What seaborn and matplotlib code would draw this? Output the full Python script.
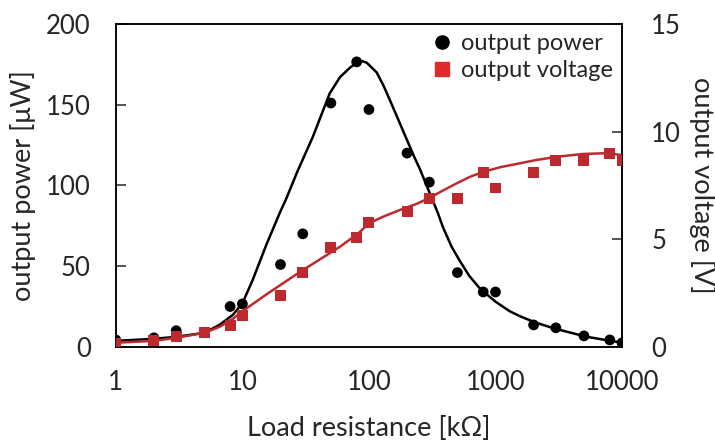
import matplotlib
matplotlib.use("Agg")
import matplotlib.pyplot as plt
import pandas as pd
import seaborn as sns
from matplotlib.lines import Line2D

# measured points
resistance = [1, 2, 3, 5, 8, 10, 20, 30, 50, 80, 100, 200, 300, 500, 800, 1000,
              2000, 3000, 5000, 8000, 10000]
power = [4.3, 5.6, 10, None, 25, 26.6, 51, 70, 151, 176.5, 147, 120, 102, 46, 34, 34,
         13.6, 11.8, 6.8, 4.3, 2.5]
voltage = [0.14, 0.28, 0.46, 0.65, 0.98, 1.44, 2.37, 3.44, 4.6, 5.1, 5.76, 6.3, 6.9, 6.87,
           8.08, 7.38, 8.08, 8.64, 8.64, 9.0, 8.64]

# fitted curves
fit_p_x = [1, 2, 3, 5, 6.6, 8.4, 10, 12, 15.6, 20, 22, 27, 36, 49, 59, 71, 80, 88, 96,
           115, 130, 146, 170, 200, 230, 253, 303, 350, 385, 450, 525, 620, 756, 1000,
           1300, 1560, 2000, 2850, 4000, 5300, 7500, 10000]
fit_p_y = [3.7, 5, 6.2, 8.7, 13.6, 19.8, 27, 41, 64, 84, 91, 108, 130, 157, 167, 173,
           176, 177, 176, 170, 162, 153, 141, 128, 117, 110, 95, 83, 74, 62, 53, 44, 36,
           28, 22, 19, 15.5, 11.6, 8.6, 6.2, 4.2, 2.6]
fit_v_x = [1, 2, 3, 5, 6.6, 8.4, 10, 15.6, 28.5, 59, 70, 80, 100, 130, 176, 240, 300,
           390, 495, 630, 800, 1100, 1480, 2100, 3070, 4900, 7900, 10000]
fit_v_y = [0.19, 0.28, 0.42, 0.65, 0.93, 1.3, 1.65, 2.45, 3.48, 4.65, 4.97, 5.2, 5.74,
           6.05, 6.36, 6.65, 6.92, 7.28, 7.6, 7.9, 8.13, 8.35, 8.5, 8.68, 8.83, 8.96,
           9.0, 8.9]

red = "#BC2A30"


def main():
    sns.set_style("white")
    plt.rcParams['font.family'] = ['Lato', 'DejaVu Sans']
    fs_tick = 18.5
    fs_lab = 19.5

    df = pd.DataFrame({"R": resistance, "P": power, "V": voltage})
    dfp = df.dropna(subset=["P"])

    fig = plt.figure(figsize=(7.15, 4.43), dpi=100)
    ax = fig.add_axes([0.162, 0.217, 0.708, 0.729])
    ax2 = ax.twinx()

    sns.lineplot(x=fit_p_x, y=fit_p_y, ax=ax, color="black", lw=1.8, sort=False)
    sns.scatterplot(data=dfp, x="R", y="P", ax=ax, color="black", s=60,
                    marker="o", edgecolor="none", zorder=3)
    sns.lineplot(x=fit_v_x, y=fit_v_y, ax=ax2, color=red, lw=1.8, sort=False)
    sns.scatterplot(data=df, x="R", y="V", ax=ax2, color=red, s=62,
                    marker="s", edgecolor="none", zorder=3)

    ax.set_xscale("log")
    ax.set_xlim(1, 10000)
    ax.set_ylim(0, 200)
    ax2.set_ylim(0, 15)
    ax.set_xticks([1, 10, 100, 1000, 10000])
    ax.set_xticklabels(["1", "10", "100", "1000", "10000"])
    ax.minorticks_off()
    ax.set_yticks([0, 50, 100, 150, 200])
    ax2.set_yticks([0, 5, 10, 15])

    for a in (ax, ax2):
        for sp in a.spines.values():
            sp.set_color("black")
            sp.set_linewidth(1.1)
        a.tick_params(direction="in", length=7, width=1.1, labelsize=fs_tick)
    ax.tick_params(axis="x", pad=17)
    ax.tick_params(axis="y", pad=18)
    ax2.tick_params(axis="y", pad=21)

    ax.set_xlabel("Load resistance [kΩ]", fontsize=fs_lab, labelpad=15)
    ax.set_ylabel("output power [μW]", fontsize=fs_lab, labelpad=7)
    ax2.set_ylabel("output voltage [V]", fontsize=fs_lab, rotation=270, labelpad=24)

    handles = [
        Line2D([], [], ls="none", marker="o", color="black", markersize=9.5),
        Line2D([], [], ls="none", marker="s", color="#E02B2B", markersize=9.5),
    ]
    ax2.legend(handles, ["output power", "output voltage"], loc="upper right",
               frameon=False, fontsize=17, handletextpad=0.2, borderaxespad=0.0,
               labelspacing=0.25, handlelength=1.2)

    fig.savefig("out.png", dpi=100)


if __name__ == "__main__":
    main()
